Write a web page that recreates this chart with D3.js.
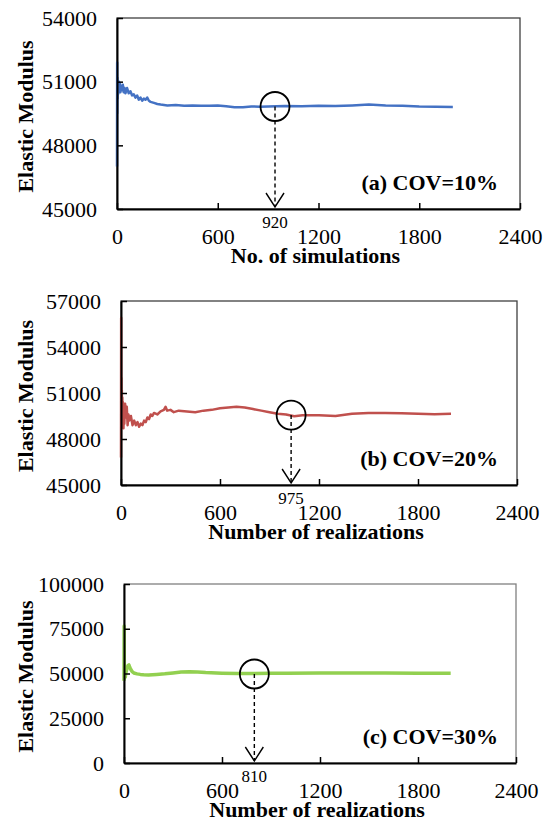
<!DOCTYPE html>
<html>
<head>
<meta charset="utf-8">
<script src="https://cdn.jsdelivr.net/npm/d3@7"></script>
<style>
  body { margin: 0; background: #fff; }
  svg text { font-family: "Liberation Serif", "Times New Roman", serif; fill: #000; }
</style>
</head>
<body>
<div class="charts"></div>
<script>
// convergence of the mean elastic modulus, three COV cases

// (a) COV=10%
const simsA = [0, 1, 2, 3, 4, 5, 6, 8, 10, 12, 15, 18, 20, 25, 30, 35, 40, 45, 50, 60, 70, 80, 90, 100,
  110, 120, 130, 140, 150, 160, 170, 180, 190, 200, 220, 240, 260, 280, 300, 350, 400, 450, 500, 550,
  600, 650, 700, 750, 800, 850, 900, 950, 1000, 1100, 1200, 1300, 1400, 1500, 1600, 1700, 1800, 1900, 2000];
const modulusA = [47000, 51900, 49500, 51200, 50200, 51000, 50400, 50900, 50500, 51000, 50600, 50900, 50500,
  50800, 50600, 50850, 50500, 50700, 50450, 50700, 50450, 50550, 50350, 50400,
  50250, 50350, 50150, 50250, 50100, 50200, 50150, 50250, 50100, 50050, 50000, 49950, 49920, 49900, 49880,
  49900, 49870, 49880, 49860, 49870,
  49880, 49840, 49790, 49800, 49830, 49820, 49830, 49840, 49850, 49840, 49860, 49850, 49880, 49920, 49880,
  49860, 49830, 49820, 49810];

// (b) COV=20%
const simsB = [0, 1, 2, 3, 4, 5, 6, 8, 10, 12, 15, 18, 20, 25, 30, 35, 40, 45, 50, 60, 70, 80, 90, 100,
  110, 120, 130, 140, 150, 160, 170, 180, 190, 200, 220, 240, 260, 270, 280, 300, 320, 350, 400, 450, 500, 550,
  600, 650, 700, 750, 800, 850, 900, 950, 1000, 1050, 1100, 1200, 1300, 1400, 1500, 1600, 1700, 1800, 1900, 2000];
const modulusB = [46800, 55900, 50500, 52000, 49500, 51200, 48800, 50700, 49300, 50400, 48700, 50200, 49000,
  50300, 49400, 50100, 48900, 49600, 49200, 49500, 48900, 49200, 48900, 49100,
  48800, 49000, 48900, 49200, 49100, 49400, 49300, 49600, 49500, 49700, 49600, 49800, 49900, 50100, 49850,
  49900, 49750, 49850, 49800, 49750, 49850, 49900,
  50000, 50050, 50100, 50050, 49950, 49850, 49750, 49650, 49600, 49480, 49550, 49550, 49500, 49650, 49700,
  49700, 49680, 49650, 49620, 49650];

// (c) COV=30%
const simsC = [0, 1, 2, 3, 5, 8, 10, 15, 20, 25, 30, 35, 40, 50, 60, 80, 100, 120, 150, 200, 250, 300, 350,
  400, 450, 500, 600, 700, 800, 900, 1000, 1200, 1400, 1600, 1800, 2000];
const modulusC = [46000, 76500, 50000, 47500, 49000, 48000, 50000, 51500, 53500, 54500, 54800, 53500, 52500,
  51000, 50300, 49800, 49500, 49300, 49200, 49500, 49800, 50300, 50800,
  51000, 50800, 50500, 50200, 50000, 50000, 50100, 50200, 50300, 50300, 50300, 50200, 50200];

// y ticks per panel
const yTicksA = [45000, 48000, 51000, 54000];
const yTicksB = [45000, 48000, 51000, 54000, 57000];
const yTicksC = [0, 25000, 50000, 75000, 100000];
const xTicks = [0, 600, 1200, 1800, 2400];

// converged point marked on each curve
const markerSims = [941, 1031, 798];
const markerModulus = [49830, 49560, 49720];
const markerLabels = ["920", "975", "810"];

const panelNames = ["(a) COV=10%", "(b) COV=20%", "(c) COV=30%"];
const xTitles = ["No. of simulations", "Number of realizations", "Number of realizations"];

const panels = [
  {x: simsA, y: modulusA, ticks: yTicksA, color: "#4472C4", lw: 2.5,
    box: {left: 117, right: 520, top: 18, bottom: 209}, frame: "#404040"},
  {x: simsB, y: modulusB, ticks: yTicksB, color: "#C0504D", lw: 2.5,
    box: {left: 121, right: 517, top: 301, bottom: 485}, frame: "#404040"},
  {x: simsC, y: modulusC, ticks: yTicksC, color: "#92D050", lw: 3.5,
    box: {left: 124, right: 516, top: 584, bottom: 763}, frame: "#808080"}
];

const svg = d3.select(".charts").append("svg")
  .attr("width", 552)
  .attr("height", 825);

panels.forEach((p, i) => {
  const b = p.box;
  const w = b.right - b.left,
    h = b.bottom - b.top;

  const x = d3.scaleLinear().domain([0, 2400]).range([0, w]);
  const y = d3.scaleLinear().domain(d3.extent(p.ticks)).range([h, 0]);

  const g = svg.append("g")
    .attr("transform", "translate(" + b.left + "," + b.top + ")");

  // plot frame (top / right)
  g.append("rect")
    .attr("width", w)
    .attr("height", h)
    .attr("fill", "none")
    .attr("stroke", p.frame)
    .attr("stroke-width", 1.3);

  const line = d3.line()
    .x((d, k) => x(p.x[k]))
    .y(d => y(d));

  g.append("path")
    .datum(p.y)
    .attr("fill", "none")
    .attr("stroke", p.color)
    .attr("stroke-width", p.lw)
    .attr("stroke-linejoin", "round")
    .attr("d", line);

  // axes, ticks pointing inward
  const xAxis = d3.axisBottom(x)
    .tickValues(xTicks)
    .tickSizeInner(-6)
    .tickSizeOuter(0)
    .tickPadding(19)
    .tickFormat(d3.format("d"));

  const yAxis = d3.axisLeft(y)
    .tickValues(p.ticks)
    .tickSizeInner(-6)
    .tickSizeOuter(0)
    .tickPadding(20)
    .tickFormat(d3.format("d"));

  const gx = g.append("g")
    .attr("transform", "translate(0," + h + ")")
    .call(xAxis);
  const gy = g.append("g").call(yAxis);

  [gx, gy].forEach(a => {
    a.select(".domain").attr("stroke", "#000").attr("stroke-width", 2);
    a.selectAll(".tick line").attr("stroke", "#000").attr("stroke-width", 1.5);
    a.selectAll(".tick text")
      .style("font-family", "'Liberation Serif', 'Times New Roman', serif")
      .style("font-size", "22px");
  });

  // axis titles
  g.append("text")
    .attr("x", w / 2 - 3)
    .attr("y", h + 54)
    .attr("text-anchor", "middle")
    .style("font-size", "22px")
    .style("font-weight", "bold")
    .text(xTitles[i]);

  g.append("text")
    .attr("transform", "translate(" + (-b.left + 33) + "," + (h / 2 + 3) + ") rotate(-90)")
    .attr("text-anchor", "middle")
    .style("font-size", "22px")
    .style("font-weight", "bold")
    .text("Elastic Modulus");

  // panel label
  g.append("text")
    .attr("x", 498 - b.left)
    .attr("y", h - 19)
    .attr("text-anchor", "end")
    .style("font-size", "22px")
    .style("font-weight", "bold")
    .text(panelNames[i]);

  // circled point with dashed arrow down to the axis
  const mx = x(markerSims[i]),
    my = y(markerModulus[i]);

  g.append("circle")
    .attr("cx", mx)
    .attr("cy", my)
    .attr("r", 14.5)
    .attr("fill", "none")
    .attr("stroke", "#000")
    .attr("stroke-width", 1.8);

  g.append("line")
    .attr("x1", mx).attr("y1", my)
    .attr("x2", mx).attr("y2", h - 2)
    .attr("stroke", "#000")
    .attr("stroke-width", 1.4)
    .attr("stroke-dasharray", "4,3");

  g.append("path")
    .attr("d", "M" + (mx - 9) + "," + (h - 16) + "L" + mx + "," + (h - 2) + "L" + (mx + 9) + "," + (h - 16))
    .attr("fill", "none")
    .attr("stroke", "#000")
    .attr("stroke-width", 1.4);

  g.append("text")
    .attr("x", mx)
    .attr("y", h + 19)
    .attr("text-anchor", "middle")
    .style("font-size", "17px")
    .text(markerLabels[i]);
});
</script>
</body>
</html>
